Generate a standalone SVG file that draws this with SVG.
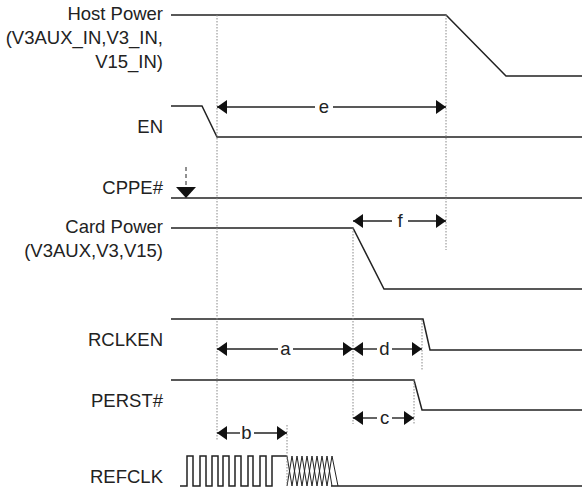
<svg xmlns="http://www.w3.org/2000/svg" width="582" height="491" viewBox="0 0 582 491">
<defs>
<style>
.sig{fill:none;stroke:#222;stroke-width:1.5;stroke-linejoin:miter}
.lbl{font-family:"Liberation Sans",Arial,sans-serif;font-size:18.5px;fill:#222;text-anchor:end}
.dim{font-family:"Liberation Sans",Arial,sans-serif;font-size:18.5px;fill:#222;text-anchor:middle}
.dl{fill:none;stroke:#222;stroke-width:1.4}
.dot{fill:none;stroke:#888;stroke-width:1;stroke-dasharray:1.5 1.5}
.xh{fill:none;stroke:#222;stroke-width:1}
</style>
<marker id="ah" markerUnits="userSpaceOnUse" markerWidth="10" markerHeight="14" refX="10" refY="7" orient="auto-start-reverse">
<path d="M0,0 L10,7 L0,14 z" fill="#111"/>
</marker>
</defs>
<rect width="582" height="491" fill="#fff"/>

<g id="host-power">
<text class="lbl" x="163" y="20">Host Power</text>
<text class="lbl" x="163" y="44">(V3AUX_IN,V3_IN,</text>
<text class="lbl" x="163" y="68">V15_IN)</text>
<polyline class="sig" points="171,15 446,15 506,76 582,76"/>
</g>

<g id="en">
<text class="lbl" x="163" y="133">EN</text>
<polyline class="sig" points="171,106 202,106 217,137 582,137"/>
</g>

<g id="cppe">
<text class="lbl" x="163" y="194">CPPE#</text>
<polyline class="sig" points="171,198 582,198"/>
<line x1="186" y1="167" x2="186" y2="188" stroke="#222" stroke-width="1" stroke-dasharray="4 3"/>
<path d="M176,187 L196,187 L186,198 z" fill="#111"/>
</g>

<g id="card-power">
<text class="lbl" x="163" y="233">Card Power</text>
<text class="lbl" x="163" y="257">(V3AUX,V3,V15)</text>
<polyline class="sig" points="171,228 353,228 384,289 582,289"/>
</g>

<g id="rclken">
<text class="lbl" x="163" y="346">RCLKEN</text>
<polyline class="sig" points="171,319 423,319 430,350 582,350"/>
</g>

<g id="perst">
<text class="lbl" x="163" y="407">PERST#</text>
<polyline class="sig" points="171,380 414,380 422,410 582,410"/>
</g>

<g id="refclk">
<text class="lbl" x="163" y="483">REFCLK</text>
<polyline class="sig" points="180,486 187,486 187,456 193,456 193,486 200,486 200,456 206,456 206,486 212,486 212,456 218,456 218,486 223,486 223,456 229,456 229,486 235,486 235,456 241,456 241,486 248,486 248,456 253,456 253,486 260,486 260,456 266,456 266,486 272,486 272,456 287,456"/>
<polyline class="xh" points="287,456 292,486 297,456 302,486 307,456 312,486 317,456 322,486 327,456 332,486"/>
<polyline class="xh" points="287,486 292,456 297,486 302,456 307,486 312,456 317,486 322,456 327,486 332,456 338,486"/>
<polyline class="sig" points="331,486 582,486"/>
</g>

<g id="connectors">
<line class="dot" x1="217" y1="15" x2="217" y2="440"/>
<line class="dot" x1="446" y1="15" x2="446" y2="250"/>
<line class="dot" x1="353" y1="228" x2="353" y2="424"/>
<line class="dot" x1="422" y1="320" x2="422" y2="370"/>
<line class="dot" x1="414" y1="380" x2="414" y2="425"/>
<line class="dot" x1="287" y1="425" x2="287" y2="485"/>

<line class="dl" x1="315" y1="107" x2="217" y2="107" marker-end="url(#ah)"/>
<line class="dl" x1="333" y1="107" x2="446" y2="107" marker-end="url(#ah)"/>
<text class="dim" x="324" y="113">e</text>

<line class="dl" x1="392" y1="221" x2="353" y2="221" marker-end="url(#ah)"/>
<line class="dl" x1="408" y1="221" x2="446" y2="221" marker-end="url(#ah)"/>
<text class="dim" x="400" y="227">f</text>

<line class="dl" x1="278" y1="349" x2="217" y2="349" marker-end="url(#ah)"/>
<line class="dl" x1="293" y1="349" x2="353" y2="349" marker-end="url(#ah)"/>
<text class="dim" x="285.5" y="355">a</text>

<line class="dl" x1="377" y1="349" x2="353" y2="349" marker-end="url(#ah)"/>
<line class="dl" x1="392" y1="349" x2="422" y2="349" marker-end="url(#ah)"/>
<text class="dim" x="384.5" y="355">d</text>

<line class="dl" x1="377" y1="418" x2="353" y2="418" marker-end="url(#ah)"/>
<line class="dl" x1="392" y1="418" x2="414" y2="418" marker-end="url(#ah)"/>
<text class="dim" x="384.5" y="424">c</text>

<line class="dl" x1="240" y1="433" x2="217" y2="433" marker-end="url(#ah)"/>
<line class="dl" x1="254" y1="433" x2="287" y2="433" marker-end="url(#ah)"/>
<text class="dim" x="246.5" y="439">b</text>
</g>
</svg>
